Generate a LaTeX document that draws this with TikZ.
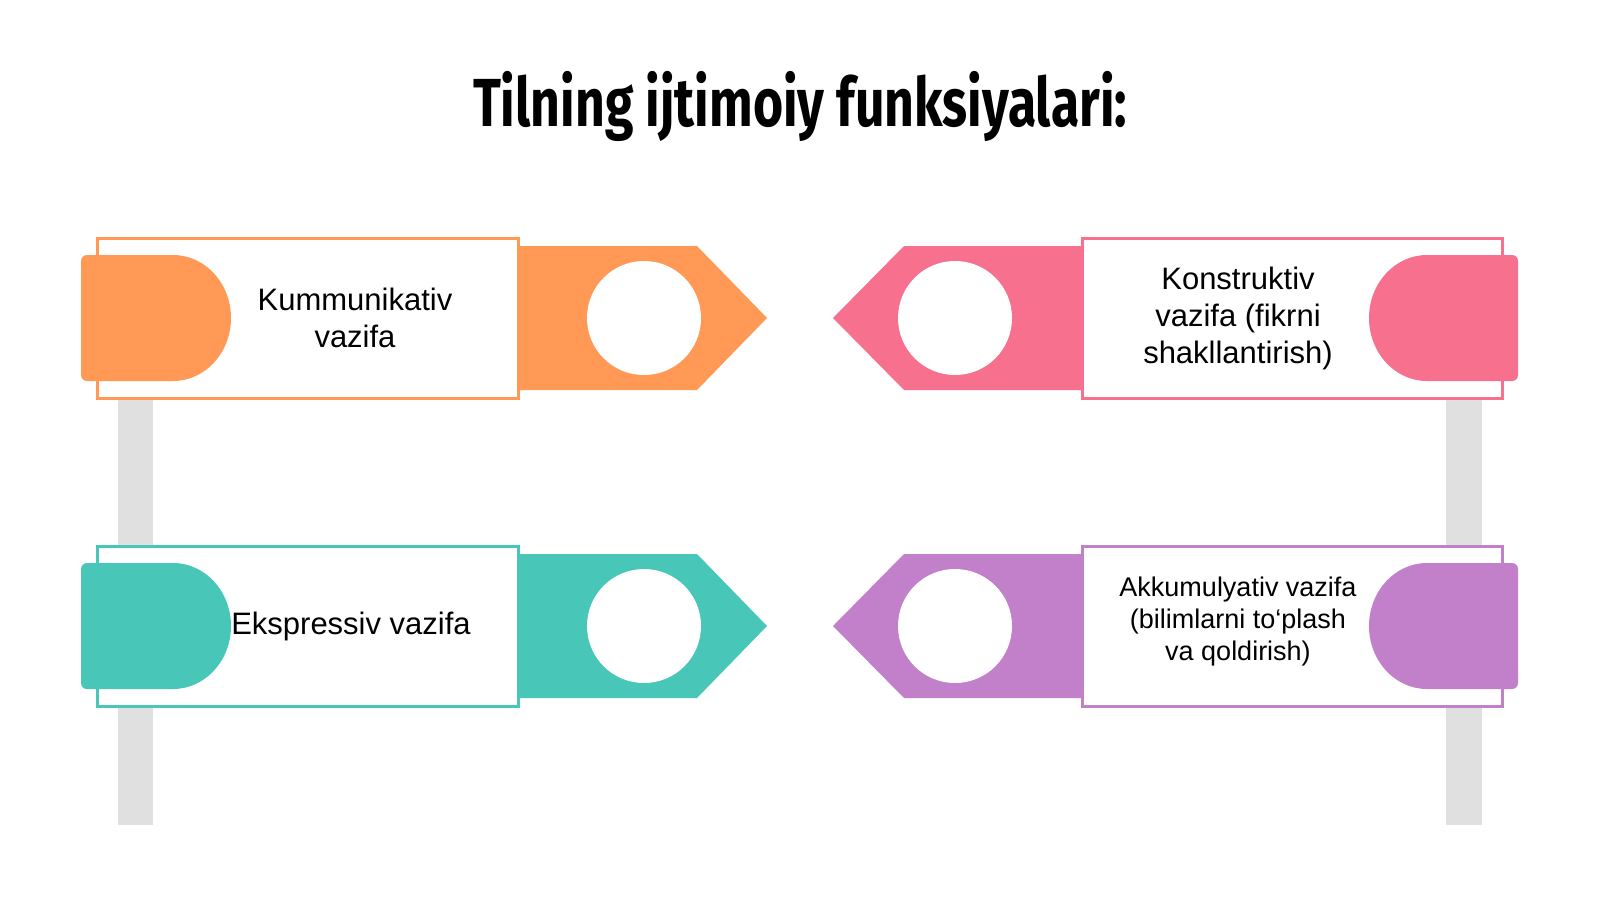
\documentclass[tikz,border=0pt]{standalone}
\usepackage{fontspec}
\setmainfont{Liberation Sans}
\newfontfamily\titlefont{Fira Sans}
\definecolor{corange}{HTML}{FF9955}
\definecolor{cpink}{HTML}{F7718F}
\definecolor{cteal}{HTML}{48C7B9}
\definecolor{cpurple}{HTML}{C280CA}
\definecolor{cpole}{HTML}{E0E0E0}
\newlength\titlew
\newcommand\titletext{\titlefont\bfseries\fontsize{68}{72}\selectfont Tilning ijtimoiy funksiyalari:}
\tikzset{
  signbox/.style={draw=#1, line width=3pt, fill=white},
  hole/.style={circle, fill=white, minimum size=114pt, inner sep=0pt},
  lbl/.style={align=center, inner sep=0pt, text=black, font=\fontsize{31}{37}\selectfont},
  lblsmall/.style={align=center, inner sep=0pt, text=black, font=\fontsize{27}{32}\selectfont},
  pole/.style={fill=cpole}
}
\begin{document}
\begin{tikzpicture}[x=1pt,y=-1pt]
\fill[white] (0,0) rectangle (1600,900);
\useasboundingbox (0,0) rectangle (1600,900);
\node[anchor=base, inner sep=0pt] (title) at (800,126) {\settowidth\titlew{\titletext}\pgfmathsetmacro\tsx{654/\titlew}\scalebox{\tsx}[1]{\titletext}};
% poles
\fill[pole] (118,390) rectangle (153,825);
\fill[pole] (1446,390) rectangle (1482,825);
% left signs
\foreach \dy/\col in {0/corange, 308/cteal}{
\begin{scope}[shift={(0,\dy)}]
\draw[signbox=\col] (97,238) rectangle (518,398);
\fill[\col] (518,246) -- (697,246) -- (767,318) -- (697,390) -- (518,390) -- cycle;
\fill[\col] (87,255) -- (173,255) arc[start angle=-90,end angle=90,x radius=58,y radius=63]
  -- (87,381) arc[start angle=90,end angle=180,radius=6] -- (81,261)
  arc[start angle=180,end angle=270,radius=6] -- cycle;
\end{scope}
}
% right signs
\foreach \dy/\col in {0/cpink, 308/cpurple}{
\begin{scope}[shift={(0,\dy)}]
\draw[signbox=\col] (1082,238) rectangle (1502,398);
\fill[\col] (1082,246) -- (904,246) -- (833,318) -- (904,390) -- (1082,390) -- cycle;
\fill[\col] (1512,255) -- (1427,255) arc[start angle=-90,end angle=-270,x radius=58,y radius=63]
  -- (1512,381) arc[start angle=90,end angle=0,radius=6] -- (1518,261)
  arc[start angle=0,end angle=-90,radius=6] -- cycle;
\end{scope}
}
% holes
\node[hole] (c1) at (644,318) {};
\node[hole] (c2) at (955,318) {};
\node[hole] (c3) at (644,626) {};
\node[hole] (c4) at (955,626) {};
% labels
\node[lbl] (t1) at (355,318) {Kummunikativ\\vazifa};
\node[lbl] (t2) at (1238,318) {Konstruktiv\\vazifa (fikrni\\shakllantirish)};
\node[lbl] (t3) at (351,626) {Ekspressiv vazifa};
\node[lblsmall] (t4) at (1238,622) {Akkumulyativ vazifa\\(bilimlarni to‘plash\\va qoldirish)};
\end{tikzpicture}
\end{document}
